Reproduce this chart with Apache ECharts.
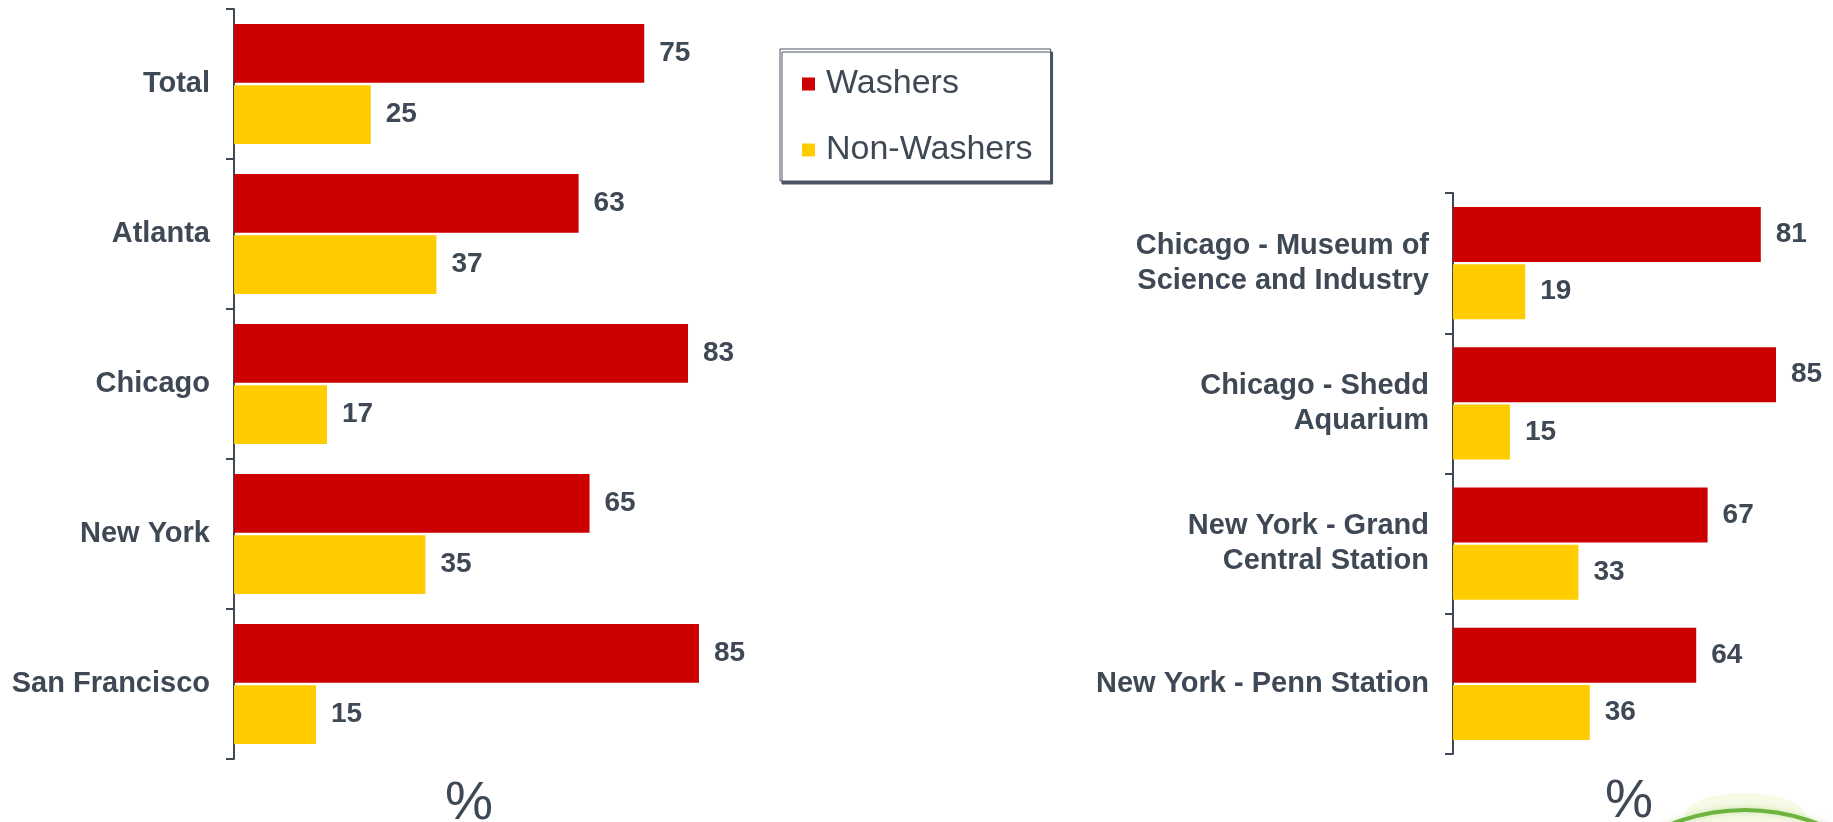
<!DOCTYPE html>
<html lang="en">
<head>
    <meta charset="UTF-8">
    <title>Washers vs Non-Washers</title>
    <style>
        html, body {
            margin: 0;
            padding: 0;
            background: #ffffff;
        }
        #main {
            width: 1833px;
            height: 822px;
        }
    </style>
    <script type="text/javascript" src="https://cdn.jsdelivr.net/npm/echarts@6/dist/echarts.min.js"></script>
</head>
<body>
<div id="main"></div>
<script type="text/javascript">
    // cities (left panel) and locations (right panel)
    var cities = ["Total", "Atlanta", "Chicago", "New York", "San Francisco"];
    var cityWashers = [75, 63, 83, 65, 85];
    var cityNonWashers = [25, 37, 17, 35, 15];

    var places = ["Chicago - Museum of\nScience and Industry", "Chicago - Shedd\nAquarium",
        "New York - Grand\nCentral Station", "New York - Penn Station"];
    var placeWashers = [81, 85, 67, 64];
    var placeNonWashers = [19, 15, 33, 36];

    var red = '#cc0000';
    var yellow = '#ffcc00';
    var ink = '#3f4955';
    var font = 'Liberation Sans, Arial, sans-serif';

    var chart = echarts.init(document.getElementById('main'));

    function valueLabel() {
        return {
            show: true,
            position: 'right',
            distance: 15,
            color: ink,
            fontFamily: font,
            fontWeight: 'bold',
            fontSize: 28
        };
    }

    function catAxis(idx, data) {
        return {
            type: 'category',
            gridIndex: idx,
            inverse: true,
            data: data,
            axisLine: {lineStyle: {color: ink, width: 2}},
            axisTick: {show: true, length: 8, lineStyle: {color: ink, width: 2}},
            axisLabel: {
                color: ink,
                fontFamily: font,
                fontWeight: 'bold',
                fontSize: 29,
                lineHeight: 35,
                margin: 24,
                align: 'right'
            }
        };
    }

    var option = {
        animation: false,
        legend: {
            data: ['Washers', 'Non-Washers'],
            orient: 'vertical',
            left: 780,
            top: 49,
            padding: [18, 18, 14, 22],
            itemGap: 32,
            itemWidth: 13,
            itemHeight: 13,
            icon: 'rect',
            backgroundColor: '#ffffff',
            borderColor: '#4a5460',
            borderWidth: 1,
            shadowColor: '#4a5460',
            shadowOffsetX: 2,
            shadowOffsetY: 3,
            shadowBlur: 0,
            textStyle: {
                color: ink,
                fontFamily: font,
                fontSize: 34,
                padding: [0, 0, 0, 6]
            }
        },
        title: [{
            text: '%',
            left: 440,
            top: 772,
            textStyle: {color: ink, fontFamily: font, fontWeight: 'normal', fontSize: 54}
        }, {
            text: '%',
            left: 1600,
            top: 770,
            textStyle: {color: ink, fontFamily: font, fontWeight: 'normal', fontSize: 54}
        }],
        grid: [
            {left: 234, top: 9, width: 547, bottom: 63},
            {left: 1453, top: 193, width: 380, bottom: 68}
        ],
        xAxis: [
            {type: 'value', gridIndex: 0, min: 0, max: 100, show: false},
            {type: 'value', gridIndex: 1, min: 0, max: 100, show: false}
        ],
        yAxis: [catAxis(0, cities), catAxis(1, places)],
        series: [{
            name: 'Washers',
            type: 'bar',
            xAxisIndex: 0,
            yAxisIndex: 0,
            data: cityWashers,
            itemStyle: {color: red},
            barGap: '4%',
            barCategoryGap: '20%',
            label: valueLabel()
        }, {
            name: 'Non-Washers',
            type: 'bar',
            xAxisIndex: 0,
            yAxisIndex: 0,
            data: cityNonWashers,
            itemStyle: {color: yellow},
            barGap: '4%',
            barCategoryGap: '20%',
            label: valueLabel()
        }, {
            name: 'Washers',
            type: 'bar',
            xAxisIndex: 1,
            yAxisIndex: 1,
            data: placeWashers,
            itemStyle: {color: red},
            barGap: '4%',
            barCategoryGap: '20%',
            label: valueLabel()
        }, {
            name: 'Non-Washers',
            type: 'bar',
            xAxisIndex: 1,
            yAxisIndex: 1,
            data: placeNonWashers,
            itemStyle: {color: yellow},
            barGap: '4%',
            barCategoryGap: '20%',
            label: valueLabel()
        }],
        // bit of the green logo peeking in at the bottom right
        graphic: [{
            type: 'ellipse',
            shape: {cx: 1745, cy: 815, rx: 60, ry: 22},
            style: {fill: 'rgba(235,245,200,0.45)'}
        }, {
            type: 'arc',
            shape: {cx: 1745, cy: 1009, r: 199, startAngle: Math.PI * 1.3, endAngle: Math.PI * 1.7},
            style: {
                fill: 'none',
                stroke: '#6cb33f',
                lineWidth: 4,
                shadowBlur: 6,
                shadowColor: 'rgba(150,200,90,0.5)'
            }
        }]
    };

    chart.setOption(option);
</script>
</body>
</html>
